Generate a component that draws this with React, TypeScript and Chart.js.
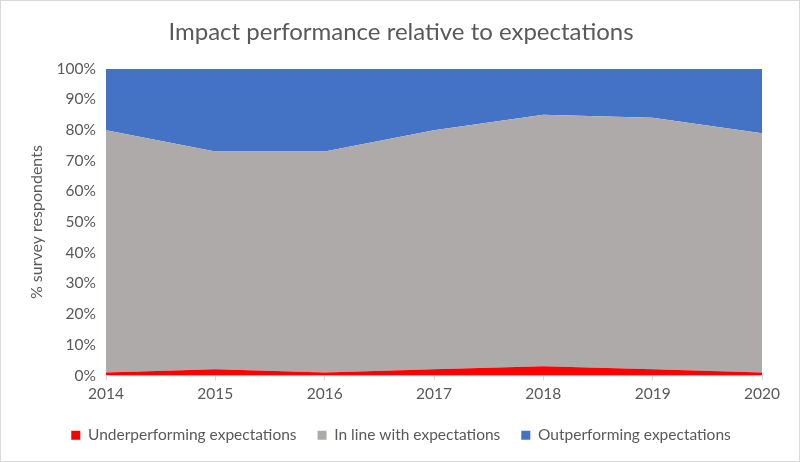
import React, { useEffect, useRef } from "react";
import { Chart, registerables } from "chart.js";

Chart.register(...registerables);

const years = ["2014", "2015", "2016", "2017", "2018", "2019", "2020"];
const underperforming = [1, 2, 1, 2, 3, 2, 1];
const inLine = [79, 71, 72, 78, 82, 82, 78];
const outperforming = [20, 27, 27, 20, 15, 16, 21];

const FONT = "Lato, 'Open Sans', sans-serif";
const TEXT = "#595959";

export default function App() {
  const ref = useRef<HTMLCanvasElement>(null);
  useEffect(() => {
    document.body.style.margin = "0";
    const chart = new Chart(ref.current!, {
      type: "line",
      data: {
        labels: years,
        datasets: [
          { label: "Underperforming expectations", data: underperforming, backgroundColor: "#FF0000", borderColor: "#FF0000", borderWidth: 0, pointRadius: 0, fill: "origin", tension: 0 },
          { label: "In line with expectations", data: inLine, backgroundColor: "#AEAAAA", borderColor: "#AEAAAA", borderWidth: 0, pointRadius: 0, fill: "-1", tension: 0 },
          { label: "Outperforming expectations", data: outperforming, backgroundColor: "#4472C4", borderColor: "#4472C4", borderWidth: 0, pointRadius: 0, fill: "-1", tension: 0 },
        ],
      },
      options: {
        animation: false,
        responsive: false,
        devicePixelRatio: 1,
        layout: { padding: { left: 39, right: 37, top: 17, bottom: 8 } },
        plugins: {
          title: {
            display: true,
            text: "Impact performance relative to expectations",
            color: TEXT,
            font: { family: FONT, size: 24, weight: "normal" },
            padding: { top: 0, bottom: 22 },
          },
          legend: {
            position: "bottom",
            labels: {
              color: TEXT,
              font: { family: FONT, size: 15.5 },
              boxWidth: 9,
              boxHeight: 9,
              padding: 21,
            },
          },
          tooltip: { enabled: false },
        },
        scales: {
          x: {
            offset: false,
            grid: { display: true, drawOnChartArea: false, drawTicks: true, tickLength: 5, color: "#D9D9D9" },
            border: { display: true, color: "#D9D9D9" },
            ticks: { color: TEXT, font: { family: FONT, size: 15.5 }, padding: 4, maxRotation: 0 },
            afterFit: (scale: any) => { scale.height = 31; },
          },
          y: {
            stacked: true,
            min: 0,
            max: 100,
            grid: { display: false },
            border: { display: false },
            ticks: {
              stepSize: 10,
              color: TEXT,
              font: { family: FONT, size: 15.5 },
              padding: 2,
              callback: (v: any) => v + "%",
            },
            title: {
              display: true,
              text: "% survey respondents",
              color: TEXT,
              font: { family: FONT, size: 16 },
              padding: { top: -13, bottom: 2 },
            },
            afterFit: (scale: any) => { scale.width = 66; },
          },
        },
      },
    });
    return () => chart.destroy();
  }, []);
  return (
    <div style={{ width: 800, height: 462, boxSizing: "border-box", border: "1px solid #D9D9D9", background: "#fff" }}>
      <canvas ref={ref} width={798} height={460} />
    </div>
  );
}
